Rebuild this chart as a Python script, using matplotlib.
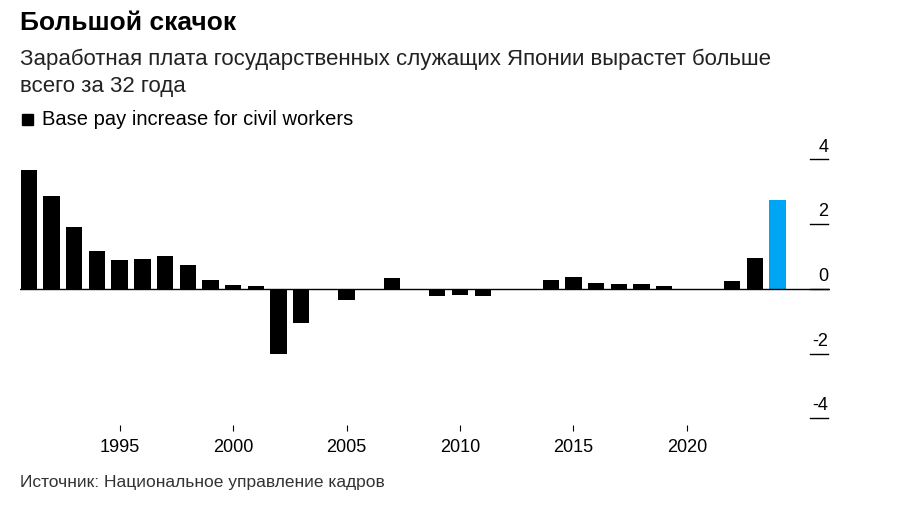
import matplotlib
matplotlib.use("Agg")
import matplotlib.pyplot as plt
from matplotlib.transforms import blended_transform_factory

years = list(range(1991, 2025))
values = [3.68, 2.88, 1.92, 1.18, 0.90, 0.93, 1.02, 0.74, 0.28, 0.12, 0.08,
          -2.03, -1.05, 0.0, -0.34, 0.0, 0.34, 0.0, -0.22, -0.19, -0.23, 0.0,
          0.0, 0.28, 0.36, 0.17, 0.15, 0.16, 0.09, 0.0, 0.0, 0.23, 0.96, 2.76]
xticks = [1995, 2000, 2005, 2010, 2015, 2020]
yticks = [4, 2, 0, -2, -4]

plt.rcParams['font.family'] = ['Liberation Sans', 'DejaVu Sans']
fig = plt.figure(figsize=(9.01, 5.12), dpi=100)
ax = fig.add_axes([0.022, 0.17, 0.899, 0.557])
colors = ['#000000'] * (len(years) - 1) + ['#00a6f4']
ax.bar(years, values, width=0.72, color=colors, zorder=2)
ax.axhline(0, color='black', lw=1, zorder=3)
ax.set_xlim(1990.6, 2026.3)
ax.set_ylim(-4.21, 4.61)
for s in ax.spines.values():
    s.set_visible(False)
ax.set_yticks([])
ax.set_xticks(xticks)
ax.set_xticklabels([str(x) for x in xticks], fontsize=13)
ax.tick_params(axis='x', length=4, color='black', pad=6)
tr = blended_transform_factory(ax.transAxes, ax.transData)
for v in yticks:
    ax.plot([0.975, 0.998], [v, v], color='black', lw=1, transform=tr, clip_on=False)
    ax.text(0.998, v + 0.12, str(v), transform=tr, ha='right', va='bottom', fontsize=13)

fig.text(0.022, 0.955, 'Большой скачок', fontsize=19, fontweight='bold', va='center')
fig.text(0.022, 0.885, 'Заработная плата государственных служащих Японии вырастет больше', fontsize=16, va='center', color='#222222')
fig.text(0.022, 0.832, 'всего за 32 года', fontsize=16, va='center', color='#222222')
fig.patches.append(plt.Rectangle((0.024, 0.755), 0.013, 0.023, transform=fig.transFigure, color='black'))
fig.text(0.047, 0.766, 'Base pay increase for civil workers', fontsize=14.5, va='center')
fig.text(0.022, 0.058, 'Источник: Национальное управление кадров', fontsize=12.5, va='center', color='#333333')
fig.savefig('out.png', dpi=100, facecolor='white')
